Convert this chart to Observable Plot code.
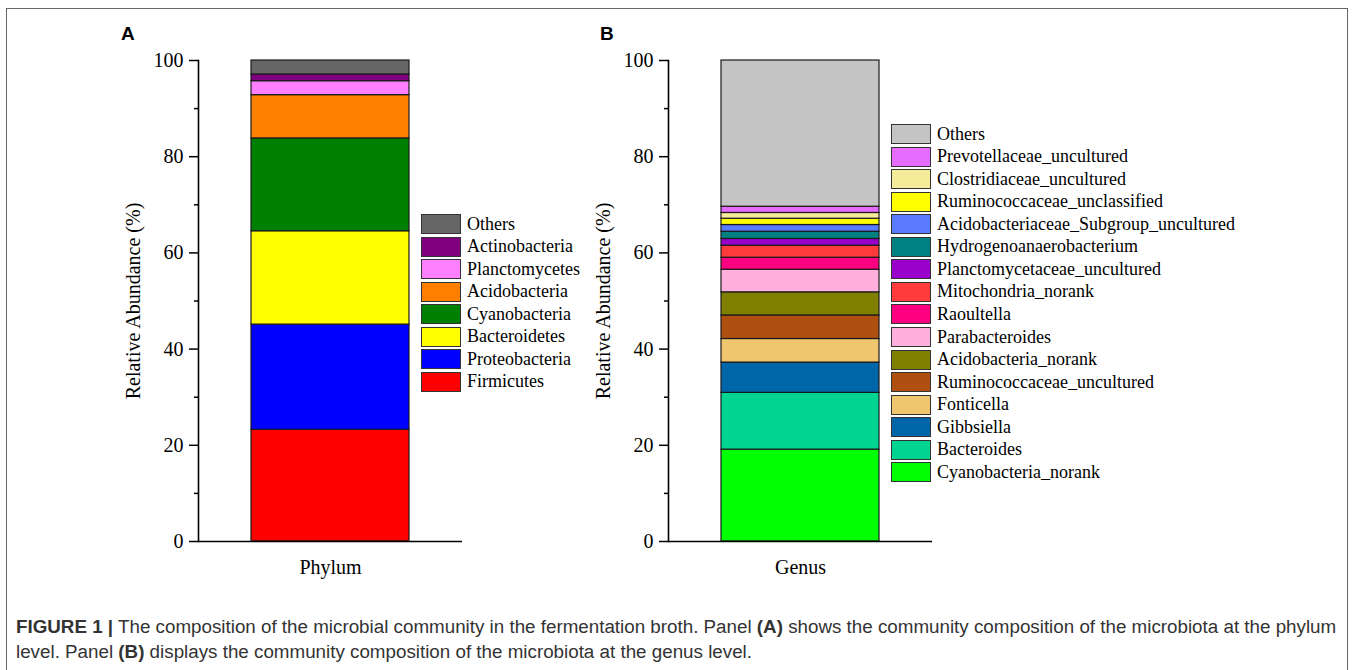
<!DOCTYPE html>
<html>
<head>
<meta charset="utf-8">
<script src="https://cdn.jsdelivr.net/npm/d3@7"></script>
<script src="https://cdn.jsdelivr.net/npm/@observablehq/plot@0.6"></script>
<style>
  html, body { margin: 0; padding: 0; background: #fff; }
  body { width: 1355px; height: 670px; position: relative; overflow: hidden; }
  #box { position: absolute; left: 6px; top: 8px; width: 1342px; height: 700px; border: 1px solid #666; box-sizing: border-box; }
  .panel { position: absolute; top: 0; }
  .plabel { position: absolute; font-family: "Liberation Sans", Arial, sans-serif; font-weight: bold; font-size: 19px; color: #000; }
  .legend { position: absolute; font-family: "Liberation Serif", "Times New Roman", serif; font-size: 18px; color: #000; }
  .legend .row { position: absolute; left: 0; height: 20px; display: flex; align-items: center; white-space: nowrap; }
  .legend .sw { width: 38px; height: 18px; border: 1px solid #333; margin-right: 6px; box-sizing: content-box; }
  #caption { position: absolute; left: 16px; top: 614px; font-family: "Liberation Sans", Arial, sans-serif; font-size: 18.8px; line-height: 25px; color: #333; white-space: nowrap; }
</style>
</head>
<body>
<div id="box"></div>
<div class="plabel" style="left:121px; top:23px;">A</div>
<div class="plabel" style="left:600px; top:23px;">B</div>
<div id="panelA" class="panel" style="left:0px;"></div>
<div id="panelB" class="panel" style="left:470px;"></div>
<div id="legendA" class="legend" style="left:421px; top:214px;"></div>
<div id="legendB" class="legend" style="left:891px; top:124px;"></div>
<div id="caption"><b>FIGURE 1 |</b> The composition of the microbial community in the fermentation broth. Panel <b>(A)</b> shows the community composition of the microbiota at the phylum<br>level. Panel <b>(B)</b> displays the community composition of the microbiota at the genus level.</div>
<script>
// ---- Data (bottom of stack first) ----
const phylumNames = ["Firmicutes", "Proteobacteria", "Bacteroidetes", "Cyanobacteria", "Acidobacteria", "Planctomycetes", "Actinobacteria", "Others"];
const phylumValues = [23.2, 21.9, 19.4, 19.3, 9.0, 2.9, 1.4, 2.9];
const phylumColors = ["#FF0000", "#0000FF", "#FFFF00", "#008000", "#FF8000", "#FF80FF", "#800080", "#666666"];

const genusNames = ["Cyanobacteria_norank", "Bacteroides", "Gibbsiella", "Fonticella", "Ruminococcaceae_uncultured", "Acidobacteria_norank", "Parabacteroides", "Raoultella", "Mitochondria_norank", "Planctomycetaceae_uncultured", "Hydrogenoanaerobacterium", "Acidobacteriaceae_Subgroup_uncultured", "Ruminococcaceae_unclassified", "Clostridiaceae_uncultured", "Prevotellaceae_uncultured", "Others"];
const genusValues = [19.1, 11.8, 6.3, 4.9, 4.9, 4.8, 4.7, 2.5, 2.5, 1.4, 1.5, 1.4, 1.3, 1.2, 1.3, 30.4];
const genusColors = ["#00FF00", "#00D490", "#0066AA", "#EFC56E", "#B05010", "#808000", "#FFB0DC", "#FF0080", "#FF3B3B", "#9900CC", "#008080", "#5B7BFF", "#FFFF00", "#F5EC9A", "#E66BFF", "#C4C4C4"];

const yMajor = [0, 20, 40, 60, 80, 100];
const yMinor = [10, 30, 50, 70, 90];
const yLabel = "Relative Abundance (%)";

function panel(level, names, values, colors) {
  const data = names.map((n, i) => ({level, name: n, value: values[i]}));
  return Plot.plot({
    width: 600,
    height: 600,
    marginLeft: 198,
    marginRight: 138,
    marginTop: 60,
    marginBottom: 59,
    style: {fontFamily: "'Liberation Serif', 'Times New Roman', serif", fontSize: "20px", color: "#000", background: "transparent", overflow: "visible"},
    x: {domain: [level], padding: 0.25, axis: null},
    y: {domain: [0, 100], axis: null},
    color: {domain: names, range: colors},
    marks: [
      Plot.barY(data, {x: "level", y: "value", fill: "name", stroke: "#1a1a1a", strokeWidth: 1.2}),
      Plot.axisX({tickSize: 0, tickPadding: 18, label: null, fontSize: 20}),
      Plot.axisY({ticks: yMajor, tickSize: 9, tickPadding: 6, strokeWidth: 1.5, label: yLabel, labelAnchor: "center", labelArrow: "none", labelOffset: 73, fontSize: 20}),
      Plot.axisY({ticks: yMinor, tickSize: 4, tickFormat: () => "", strokeWidth: 1.5, label: null}),
      Plot.frame({anchor: "left", stroke: "#000", strokeWidth: 1.6}),
      Plot.ruleY([0], {stroke: "#000", strokeWidth: 1.6})
    ]
  });
}

function legend(el, names, colors) {
  const n = names.length;
  for (let k = 0; k < n; k++) {
    const i = n - 1 - k;
    const row = document.createElement("div");
    row.className = "row";
    row.style.top = (k * 22.56) + "px";
    const sw = document.createElement("div");
    sw.className = "sw";
    sw.style.background = colors[i];
    const tx = document.createElement("span");
    tx.textContent = names[i];
    row.appendChild(sw);
    row.appendChild(tx);
    el.appendChild(row);
  }
}

document.getElementById("panelA").appendChild(panel("Phylum", phylumNames, phylumValues, phylumColors));
document.getElementById("panelB").appendChild(panel("Genus", genusNames, genusValues, genusColors));
legend(document.getElementById("legendA"), phylumNames, phylumColors);
legend(document.getElementById("legendB"), genusNames, genusColors);
</script>
</body>
</html>
